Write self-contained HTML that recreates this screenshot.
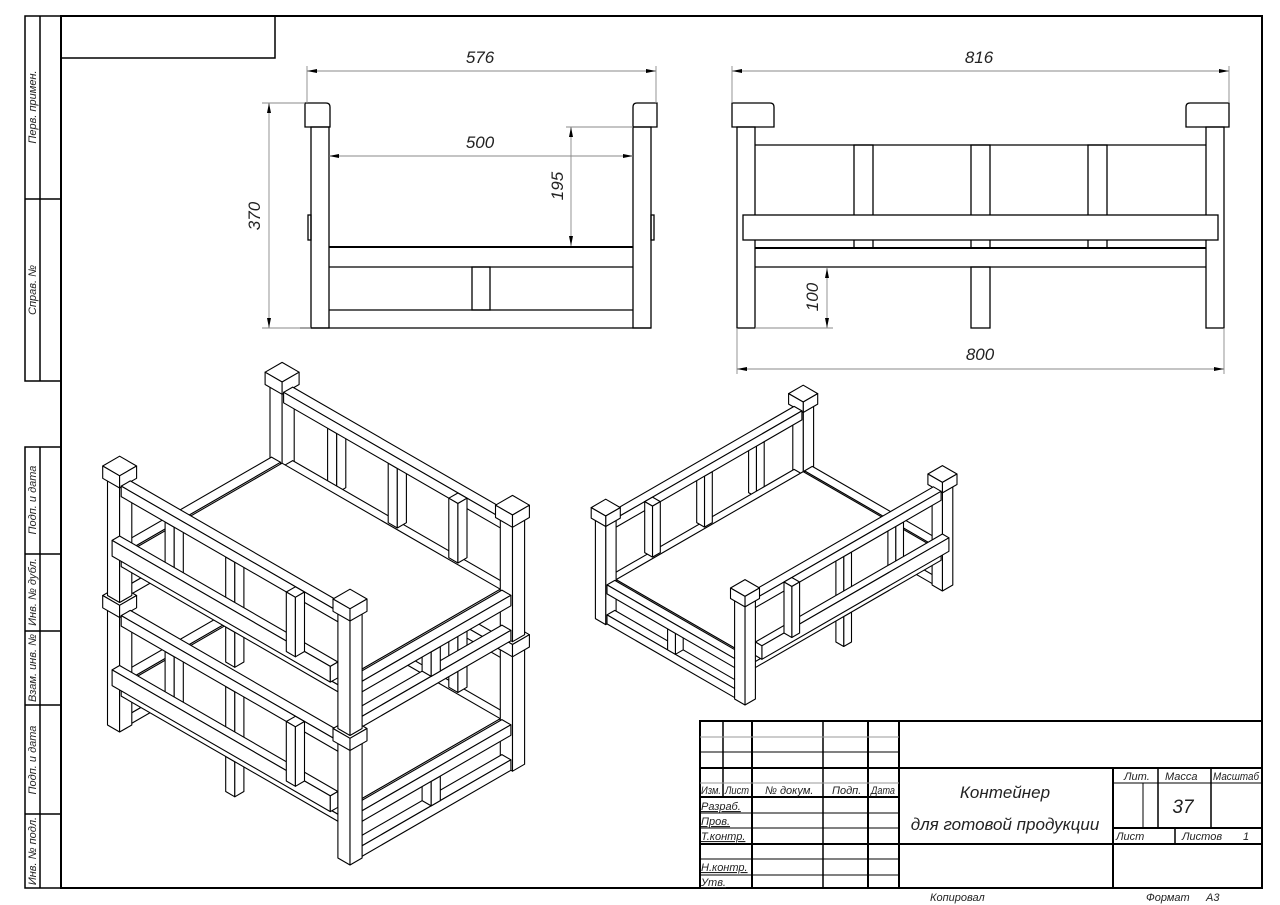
<!DOCTYPE html>
<html><head><meta charset="utf-8"><style>
html,body{margin:0;padding:0;background:#fff;}
svg{display:block;}
text{font-family:"Liberation Sans","DejaVu Sans",sans-serif;font-style:italic;fill:#222;}
</style></head><body>
<svg id="s" width="1280" height="905" viewBox="0 0 1280 905" xmlns="http://www.w3.org/2000/svg">
<defs>
<marker id="ar" viewBox="0 0 10 4" refX="10" refY="2" markerWidth="10" markerHeight="4" orient="auto-start-reverse" markerUnits="userSpaceOnUse"><path d="M0,0 L10,2 L0,4z" fill="#000"/></marker>
</defs>
<rect width="1280" height="905" fill="#fff"/>
<rect x="61" y="16" width="1201" height="872" fill="none" stroke="#000" stroke-width="2"/>
<path d="M61,58 H275 V16" fill="none" stroke="#000" stroke-width="1.5"/>
<g fill="none" stroke="#000" stroke-width="1.5">
<rect x="25" y="16" width="36" height="365"/><line x1="40" y1="16" x2="40" y2="381"/><line x1="25" y1="199" x2="61" y2="199"/>
<rect x="25" y="447" width="36" height="441"/><line x1="40" y1="447" x2="40" y2="888"/>
<line x1="25" y1="554" x2="61" y2="554"/><line x1="25" y1="631" x2="61" y2="631"/><line x1="25" y1="705" x2="61" y2="705"/><line x1="25" y1="814" x2="61" y2="814"/>
</g>
<g font-size="11" text-anchor="middle">
<text x="36" y="107" transform="rotate(-90 36 107)">Перв. примен.</text>
<text x="36" y="290" transform="rotate(-90 36 290)">Справ. №</text>
<text x="36" y="500" transform="rotate(-90 36 500)">Подп. и дата</text>
<text x="36" y="592" transform="rotate(-90 36 592)">Инв. № дубл.</text>
<text x="36" y="668" transform="rotate(-90 36 668)">Взам. инв. №</text>
<text x="36" y="760" transform="rotate(-90 36 760)">Подп. и дата</text>
<text x="36" y="851" transform="rotate(-90 36 851)">Инв. № подл.</text>
</g>

<g fill="none" stroke="#000" stroke-width="1.3">
<path d="M305,127 V103 H326 Q330,103 330,107 V127 Z"/>
<path d="M657,127 V103 H637 Q633,103 633,107 V127 Z"/>
<rect x="311" y="127" width="18" height="201"/>
<rect x="633" y="127" width="18" height="201"/>
<rect x="308" y="215" width="3" height="25"/><rect x="651" y="215" width="3" height="25"/>
<line x1="329" y1="247" x2="633" y2="247" stroke-width="2"/>
<line x1="329" y1="267" x2="633" y2="267"/>
<line x1="329" y1="310" x2="633" y2="310"/>
<line x1="300" y1="328" x2="651" y2="328"/>
<rect x="472" y="267" width="18" height="43"/>
</g>
<g stroke="#888" stroke-width="0.9" fill="none">
<line x1="307" y1="66" x2="307" y2="103"/><line x1="656" y1="66" x2="656" y2="103"/>
<line x1="307" y1="71" x2="656" y2="71" marker-start="url(#ar)" marker-end="url(#ar)"/>
<line x1="329" y1="156" x2="633" y2="156" marker-start="url(#ar)" marker-end="url(#ar)"/>
<line x1="566" y1="127" x2="633" y2="127"/>
<line x1="571" y1="127" x2="571" y2="246" marker-start="url(#ar)" marker-end="url(#ar)"/>
<line x1="262" y1="103" x2="305" y2="103"/><line x1="262" y1="328" x2="311" y2="328"/>
<line x1="269" y1="103" x2="269" y2="328" marker-start="url(#ar)" marker-end="url(#ar)"/>
</g>
<g font-size="17" text-anchor="middle">
<text x="480" y="63">576</text>
<text x="480" y="148">500</text>
<text x="563" y="186" transform="rotate(-90 563 186)">195</text>
<text x="260" y="216" transform="rotate(-90 260 216)">370</text>
</g>

<g fill="none" stroke="#000" stroke-width="1.3">
<path d="M732,127 V103 H770 Q774,103 774,107 V127 Z"/>
<path d="M1229,127 V103 H1190 Q1186,103 1186,107 V127 Z"/>
<rect x="737" y="127" width="18" height="201"/>
<rect x="1206" y="127" width="18" height="201"/>
<line x1="755" y1="145" x2="1206" y2="145"/>
<rect x="854" y="145" width="19" height="103"/><rect x="971" y="145" width="19" height="103"/><rect x="1088" y="145" width="19" height="103"/>
<line x1="755" y1="248" x2="1206" y2="248" stroke-width="2"/>
<line x1="755" y1="267" x2="1206" y2="267"/>
<rect x="743" y="215" width="475" height="25" fill="#fff"/>
<rect x="971" y="267" width="19" height="61"/>
</g>
<g stroke="#888" stroke-width="0.9" fill="none">
<line x1="732" y1="66" x2="732" y2="103"/><line x1="1229" y1="66" x2="1229" y2="103"/>
<line x1="732" y1="71" x2="1229" y2="71" marker-start="url(#ar)" marker-end="url(#ar)"/>
<line x1="755" y1="328" x2="833" y2="328"/>
<line x1="827" y1="268" x2="827" y2="328" marker-start="url(#ar)" marker-end="url(#ar)"/>
<line x1="737" y1="328" x2="737" y2="374"/><line x1="1224" y1="328" x2="1224" y2="374"/>
<line x1="737" y1="369" x2="1224" y2="369" marker-start="url(#ar)" marker-end="url(#ar)"/>
</g>
<g font-size="17" text-anchor="middle">
<text x="979" y="63">816</text>
<text x="818" y="297" transform="rotate(-90 818 297)">100</text>
<text x="980" y="360">800</text>
</g>

<g id="isoL"></g>
<g id="isoR"></g>

<g fill="none" stroke="#000" stroke-width="1">
<rect x="700" y="721" width="562" height="167" stroke-width="2"/>
<line x1="899" y1="721" x2="899" y2="888" stroke-width="2"/>
<line x1="752" y1="721" x2="752" y2="888" stroke-width="2"/>
<line x1="868" y1="721" x2="868" y2="888" stroke-width="2"/>
<line x1="823" y1="721" x2="823" y2="888" stroke-width="1.5"/>
<line x1="723" y1="721" x2="723" y2="797" stroke-width="1.5"/>
<line x1="700" y1="737" x2="899" y2="737" stroke="#999"/>
<line x1="700" y1="752" x2="899" y2="752"/>
<line x1="700" y1="768" x2="1262" y2="768" stroke-width="2"/>
<line x1="700" y1="783" x2="899" y2="783" stroke="#999"/>
<line x1="700" y1="797" x2="899" y2="797" stroke-width="2"/>
<line x1="700" y1="813" x2="899" y2="813"/>
<line x1="700" y1="828" x2="899" y2="828"/>
<line x1="700" y1="844" x2="1262" y2="844" stroke-width="2"/>
<line x1="700" y1="859" x2="899" y2="859"/>
<line x1="700" y1="875" x2="899" y2="875"/>
<line x1="1113" y1="768" x2="1113" y2="888" stroke-width="2"/>
<line x1="1113" y1="783" x2="1262" y2="783"/>
<line x1="1113" y1="828" x2="1262" y2="828" stroke-width="2"/>
<line x1="1158" y1="768" x2="1158" y2="828" stroke-width="1.5"/>
<line x1="1143" y1="783" x2="1143" y2="828"/>
<line x1="1211" y1="768" x2="1211" y2="828" stroke-width="1.5"/>
<line x1="1175" y1="828" x2="1175" y2="844" stroke-width="1.5"/>
</g>
<g font-size="11">
<text x="701" y="794" textLength="20" lengthAdjust="spacingAndGlyphs">Изм.</text><text x="725" y="794" textLength="24" lengthAdjust="spacingAndGlyphs">Лист</text><text x="765" y="794">№ докум.</text><text x="832" y="794">Подп.</text><text x="871" y="794" textLength="24" lengthAdjust="spacingAndGlyphs">Дата</text>
<text x="701" y="810" text-decoration="underline">Разраб.</text>
<text x="701" y="825" text-decoration="underline">Пров.</text>
<text x="701" y="840" text-decoration="underline">Т.контр.</text>
<text x="701" y="871" text-decoration="underline">Н.контр.</text>
<text x="701" y="886" text-decoration="underline">Утв.</text>
<text x="1124" y="780">Лит.</text><text x="1165" y="780">Масса</text><text x="1213" y="780" textLength="46" lengthAdjust="spacingAndGlyphs">Масштаб</text>
<text x="1116" y="840">Лист</text><text x="1182" y="840">Листов</text><text x="1243" y="840">1</text>
<text x="930" y="901">Копировал</text><text x="1146" y="901">Формат</text><text x="1206" y="901">А3</text>
</g>
<g font-size="17" text-anchor="middle">
<text x="1005" y="798">Контейнер</text>
<text x="1005" y="830">для готовой продукции</text>
<text x="1183" y="813" font-size="19">37</text>
</g>
</svg>
<script>
(function(){
function build(id,O,s,ca,cb,levels){
  var boxes=[];
  function box(x0,x1,y0,y1,z0,z1){boxes.push([x0,x1,y0,y1,z0,z1]);}
  levels.forEach(function(z){
    [[0,0],[760,0],[0,536],[760,536]].forEach(function(p){
      box(p[0],p[0]+40,p[1],p[1]+40,z,z+335);
      box(p[0]-8,p[0]+48,p[1]-8,p[1]+48,z+335,z+370);
    });
    box(40,760,40,536,z+120,z+130);
    [0,536].forEach(function(py){
      box(40,760,py+5,py+35,z+100,z+120);
      box(40,760,py+5,py+35,z+300,z+330);
      [200,400,600].forEach(function(c){box(c-15,c+15,py+5,py+35,z+130,z+300);});
      box(385,415,py+5,py+35,z,z+100);
    });
    box(40,760,-25,0,z+145,z+190);
    [0,760].forEach(function(px){
      box(px+5,px+35,40,536,z+100,z+130);
      box(px+5,px+35,40,536,z,z+30);
      box(px+5,px+35,273,303,z+30,z+100);
    });
  });
  boxes.sort(function(a,b){
    var ka=(a[0]+a[1]+a[2]+a[3])/2, kb=(b[0]+b[1]+b[2]+b[3])/2;
    if(Math.abs(ka-kb)>1) return kb-ka;
    return a[4]-b[4];
  });
  function P(x,y,z){return (O[0]+s*(x*ca[0]+y*cb[0])).toFixed(1)+','+(O[1]+s*(x*ca[1]+y*cb[1])-s*z).toFixed(1);}
  var out='';
  boxes.forEach(function(b){
    var x0=b[0],x1=b[1],y0=b[2],y1=b[3],z0=b[4],z1=b[5];
    var f=[[P(x0,y0,z1),P(x1,y0,z1),P(x1,y1,z1),P(x0,y1,z1)],
           [P(x0,y0,z0),P(x1,y0,z0),P(x1,y0,z1),P(x0,y0,z1)],
           [P(x0,y0,z0),P(x0,y1,z0),P(x0,y1,z1),P(x0,y0,z1)]];
    f.forEach(function(q){out+='<polygon points="'+q.join(' ')+'"/>';});
  });
  var g=document.getElementById(id);
  g.setAttribute('fill','#fff');g.setAttribute('stroke','#000');g.setAttribute('stroke-width','1.1');g.setAttribute('stroke-linejoin','round');
  g.innerHTML=out;
}
build('isoL',[350,865],0.35,[-0.866,-0.5],[0.866,-0.5],[0,370]);
build('isoR',[745,705],0.3,[0.866,-0.5],[-0.866,-0.5],[0]);
})();
</script>
</body></html>
